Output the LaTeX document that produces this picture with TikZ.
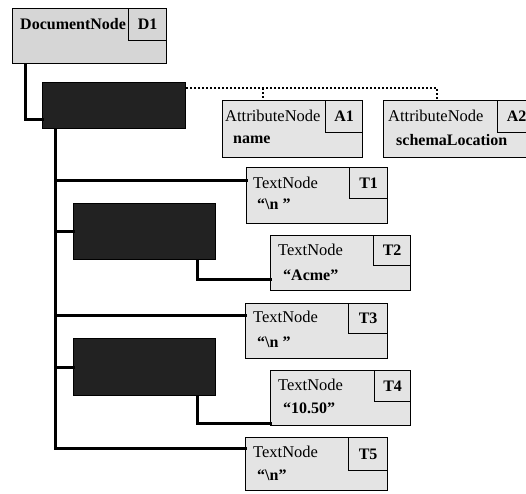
\documentclass[tikz,border=0pt]{standalone}
\usepackage{fontspec}
\setmainfont{Liberation Serif}
\definecolor{boxfill}{RGB}{228,228,228}
\definecolor{docfill}{RGB}{214,214,214}
\definecolor{darkfill}{RGB}{34,34,34}
\tikzset{
  box/.style={draw=black, line width=1.3pt, fill=boxfill, anchor=north west, inner sep=0pt},
  tagbox/.style={draw=black, line width=1.3pt, anchor=north east, inner sep=0pt, font=\fontsize{16}{18}\selectfont\bfseries},
  dark/.style={draw=black, line width=1pt, fill=darkfill, anchor=north west, inner sep=0pt},
  title/.style={anchor=west, inner sep=0pt, font=\fontsize{16.5}{18}\selectfont},
  val/.style={anchor=west, inner sep=0pt, font=\fontsize{16}{18}\selectfont\bfseries},
  conn/.style={line width=3pt, line cap=rect},
  dots/.style={line width=2.4pt, dash pattern=on 2pt off 2pt}
}
\begin{document}
\begin{tikzpicture}[x=1pt,y=-1pt]
\useasboundingbox (0,0) rectangle (526,493);
% document node
\node[box, fill=docfill, minimum width=154pt, minimum height=55pt] (d1) at (12,8) {};
\node[tagbox, minimum width=38pt, minimum height=32pt] (d1t) at (d1.north east) {D1};
\node[title, font=\fontsize{16}{18}\selectfont\bfseries] (d1n) at ([xshift=8pt,yshift=-16pt]d1.north west) {DocumentNode};
% dark element boxes
\node[dark, minimum width=143pt, minimum height=46pt] (e1) at (42,82) {};
\node[dark, minimum width=142pt, minimum height=56pt] (e2) at (73,203) {};
\node[dark, minimum width=142pt, minimum height=57pt] (e3) at (73,338) {};
% attribute nodes
\node[box, minimum width=140pt, minimum height=57pt] (a1) at (222,100) {};
\node[tagbox, minimum width=37pt, minimum height=32pt] (a1t) at (a1.north east) {A1};
\node[title] (a1n) at ([xshift=3pt,yshift=-16pt]a1.north west) {AttributeNode};
\node[val] (a1v) at ([xshift=11pt,yshift=-40pt]a1.north west) {name};
\node[box, minimum width=152pt, minimum height=57pt] (a2) at (383,100) {};
\node[tagbox, minimum width=38pt, minimum height=32pt] (a2t) at (a2.north east) {A2};
\node[title] (a2n) at ([xshift=5pt,yshift=-16pt]a2.north west) {AttributeNode};
\node[val] (a2v) at ([xshift=13pt,yshift=-40pt]a2.north west) {schemaLocation};
% text nodes
\node[box, minimum width=141pt, minimum height=56pt] (t1) at (246,167) {};
\node[tagbox, minimum width=38pt, minimum height=31pt] (t1t) at (t1.north east) {T1};
\node[title] (t1n) at ([xshift=7pt,yshift=-16pt]t1.north west) {TextNode};
\node[val] (t1v) at ([xshift=11pt,yshift=-37pt]t1.north west) {“\textbackslash n ”};
\node[box, minimum width=140pt, minimum height=55pt] (t2) at (270,235) {};
\node[tagbox, minimum width=37pt, minimum height=30pt] (t2t) at (t2.north east) {T2};
\node[title] (t2n) at ([xshift=8pt,yshift=-15pt]t2.north west) {TextNode};
\node[val] (t2v) at ([xshift=13pt,yshift=-40pt]t2.north west) {“Acme”};
\node[box, minimum width=142pt, minimum height=55pt] (t3) at (245,303) {};
\node[tagbox, minimum width=39pt, minimum height=30pt] (t3t) at (t3.north east) {T3};
\node[title] (t3n) at ([xshift=8pt,yshift=-14pt]t3.north west) {TextNode};
\node[val] (t3v) at ([xshift=12pt,yshift=-39pt]t3.north west) {“\textbackslash n ”};
\node[box, minimum width=140pt, minimum height=55pt] (t4) at (270,370) {};
\node[tagbox, minimum width=36pt, minimum height=31pt] (t4t) at (t4.north east) {T4};
\node[title] (t4n) at ([xshift=8pt,yshift=-15pt]t4.north west) {TextNode};
\node[val] (t4v) at ([xshift=13pt,yshift=-38pt]t4.north west) {“10.50”};
\node[box, minimum width=142pt, minimum height=53pt] (t5) at (245,437) {};
\node[tagbox, minimum width=39pt, minimum height=33pt] (t5t) at (t5.north east) {T5};
\node[title] (t5n) at ([xshift=8pt,yshift=-15pt]t5.north west) {TextNode};
\node[val] (t5v) at ([xshift=12pt,yshift=-38pt]t5.north west) {“\textbackslash n”};
% connectors
\draw[conn] ([xshift=13pt]d1.south west) |- ([yshift=10pt]e1.south west);
\coordinate (trunk) at ([xshift=13pt]e1.south west);
\draw[conn] (trunk) |- ([yshift=-13pt]t1.north west);
\draw[conn] (trunk) |- (e2.west);
\draw[conn] (trunk) |- ([yshift=-12pt]t3.north west);
\draw[conn] (trunk) |- (e3.west);
\draw[conn] (trunk) |- ([yshift=-11pt]t5.north west);
\draw[conn] ([xshift=-19pt]e2.south east) |- ([yshift=12pt]t2.south west);
\draw[conn] ([xshift=-19pt]e3.south east) |- ([yshift=3pt]t4.south west);
% dotted attribute links
\coordinate (dl) at ([yshift=-6pt]e1.north east);
\draw[dots] (dl) -| ([xshift=54pt]a2.north west);
\draw[dots] ([xshift=41pt]a1.north west |- dl) -- ([xshift=41pt]a1.north west);
\end{tikzpicture}
\end{document}
